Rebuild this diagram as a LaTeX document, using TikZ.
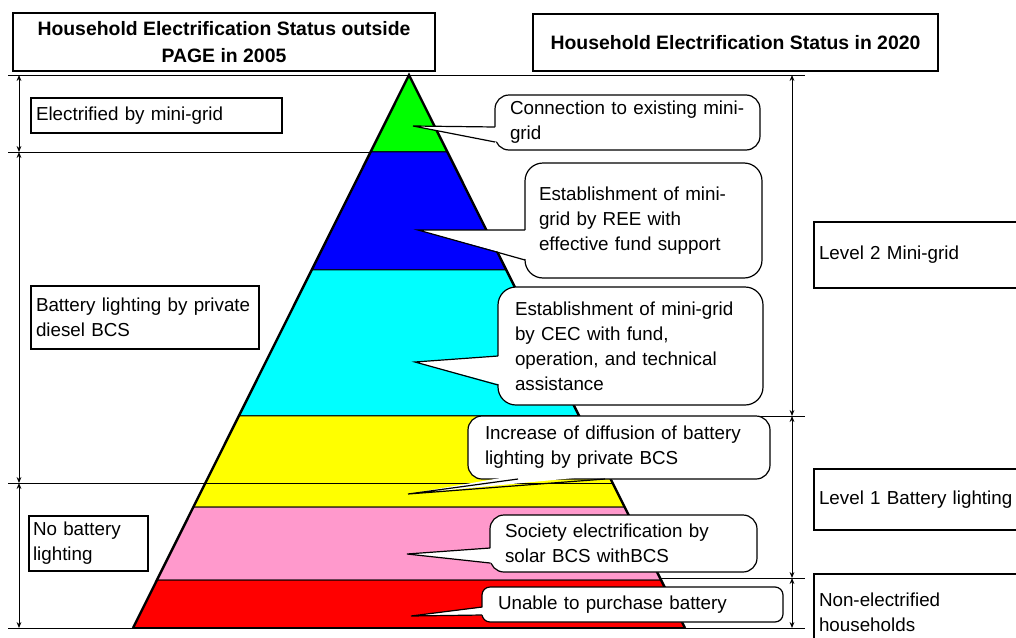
\documentclass[tikz,border=0pt]{standalone}
\usepackage{fontspec}
\setmainfont{Liberation Sans}
\usepackage{xcolor}
\usepackage{tikz}
\usetikzlibrary{arrows.meta,calc,positioning}
\definecolor{pyrgreen}{RGB}{0,255,0}
\definecolor{pyrblue}{RGB}{0,0,255}
\definecolor{pyrcyan}{RGB}{0,255,255}
\definecolor{pyryellow}{RGB}{255,255,0}
\definecolor{pyrpink}{RGB}{255,153,204}
\definecolor{pyrred}{RGB}{255,0,0}

\begin{document}
\begin{tikzpicture}[x=0.5pt,y=-0.5pt,font=\fontsize{9.4}{12.5}\selectfont,
	box/.style={draw, line width=0.6pt, fill=white, align=left, inner ysep=0pt},
	bubble/.style={draw, line width=0.6pt, fill=white, align=left, inner ysep=0pt},
	span/.style={{Stealth[length=3pt,width=2.4pt]}-{Stealth[length=3pt,width=2.4pt]}, line width=0.5pt},
	level/.style={line width=0.5pt}]
	\useasboundingbox (0,0) rectangle (1016,637);
	
	% Lignes de niveau
	\draw[level] (8,75) -- (805,75);
	\draw[level] (8,152) -- (400,152);
	\draw[level] (400,416) -- (805,416);
	\draw[level] (640,578) -- (805,578);
	\draw[level] (8,628) -- (805,628);
	
	% Pyramide
	\coordinate (apex) at (409,75);
	\coordinate (bl) at (133,628);
	\coordinate (br) at (685,628);
	\foreach \ta/\tb/\col in {0/0.1392/pyrgreen, 0.1392/0.3526/pyrblue, 0.3526/0.6166/pyrcyan, 0.6166/0.7812/pyryellow, 0.7812/0.9132/pyrpink, 0.9132/1/pyrred} {
		\filldraw[fill=\col, line width=0.5pt] ($(apex)!\ta!(bl)$) -- ($(apex)!\tb!(bl)$) -- ($(apex)!\tb!(br)$) -- ($(apex)!\ta!(br)$) -- cycle;
	}
	\draw[line width=1.2pt] (bl) -- (apex) -- (br);
	\draw[line width=1pt] (bl) -- (br);
	\draw[level] (8,483) -- (613,483);
	
	% Fleches
	\coordinate (a0) at (19,75);
	\coordinate (a1) at (19,152);
	\coordinate (a2) at (19,483);
	\coordinate (a3) at (19,628);
	\coordinate (b0) at (792,75);
	\coordinate (b1) at (792,416);
	\coordinate (b2) at (792,578);
	\coordinate (b3) at (792,628);
	\draw[span] (a0) -- (a1);
	\draw[span] (a1) -- (a2);
	\draw[span] (a2) -- (a3);
	\draw[span] (b0) -- (b1);
	\draw[span] (b1) -- (b2);
	\draw[span] (b2) -- (b3);
	
	% Titres
	\node[box, align=center, font=\fontsize{9.7}{13.5}\selectfont\bfseries, minimum width=211pt, minimum height=29pt] (t2005) at (224,42) {Household Electrification Status outside\\PAGE in 2005};
	\node[box, align=center, font=\fontsize{9.7}{13.5}\selectfont\bfseries, minimum width=202.5pt, minimum height=28.5pt] (t2020) at (735.5,42.5) {Household Electrification Status in 2020};
	
	% Situation 2005
	\node[box, minimum width=125.5pt, minimum height=17.5pt, text width=120.5pt, inner xsep=2.5pt] (now1) at (156.5,115.5) {Electrified by mini-grid};
	\node[box, minimum width=114pt, minimum height=31.5pt, text width=109pt, inner xsep=2.5pt] (now2) at (145,317.5) {Battery lighting by private\\diesel BCS};
	\node[box, minimum width=59.5pt, minimum height=27.5pt, text width=55.5pt, inner xsep=2pt] (now3) at (88.5,543.5) {No battery\\lighting};
	
	% Niveaux 2020
	\node[box, minimum width=108pt, minimum height=33pt, text width=103pt, inner xsep=2.5pt] (lev2) at (922,255) {Level 2 Mini-grid};
	\node[box, minimum width=108pt, minimum height=30.5pt, text width=103pt, inner xsep=2.5pt] (lev1) at (922,499.5) {Level 1 Battery lighting};
	\node[box, minimum width=108pt, minimum height=38pt, text width=103pt, inner xsep=2.5pt] (lev0) at (922,612) {Non-electrified\\households};
	
	% Bulles
	\node[bubble, rounded corners=7pt, minimum width=132.5pt, minimum height=27.5pt, text width=117.5pt, inner xsep=7.5pt] (bub1) at (627.5,122.5) {Connection to existing mini-\\grid};
	\node[bubble, rounded corners=9pt, minimum width=118.5pt, minimum height=57.5pt, text width=104.5pt, inner xsep=7pt] (bub2) at (643.5,220.5) {Establishment of mini-\\grid by REE with\\effective fund support};
	\node[bubble, rounded corners=9pt, minimum width=132.5pt, minimum height=59pt, text width=115.5pt, inner xsep=8.5pt] (bub3) at (630.5,346) {Establishment of mini-grid\\by CEC with fund,\\operation, and technical\\assistance};
	\node[bubble, rounded corners=7pt, minimum width=151pt, minimum height=31.5pt, text width=134pt, inner xsep=8.5pt] (bub4) at (619,447.5) {Increase of diffusion of battery\\lighting by private BCS};
	\node[bubble, rounded corners=7pt, minimum width=133.5pt, minimum height=28.5pt, text width=118.5pt, inner xsep=7.5pt] (bub5) at (623.5,543.5) {Society electrification by\\solar BCS withBCS};
	\node[bubble, rounded corners=4pt, minimum width=150.5pt, minimum height=17.5pt, text width=134.5pt, inner xsep=8pt] (bub6) at (632.5,604.5) {Unable to purchase battery};
	
	% Pointes des bulles
	\foreach \tip/\ba/\bb/\ia/\ib in {
		{413,126}/{495,127}/{495,142}/{499,127}/{499,142},
		{418,230}/{525,230}/{525,260}/{529,230}/{529,260},
		{415,362}/{498,356}/{498,385}/{502,356}/{502,385},
		{408,494}/{518,479}/{605,479}/{518,475}/{605,475},
		{407,554}/{490,548}/{490,563}/{494,548}/{494,563},
		{411,616}/{482,607}/{482,615}/{486,607}/{486,615}} {
		\fill[white] (\ia) -- (\tip) -- (\ib) -- cycle;
		\draw[line width=0.6pt] (\ba) -- (\tip) -- (\bb);
	}
\end{tikzpicture}
\end{document}
